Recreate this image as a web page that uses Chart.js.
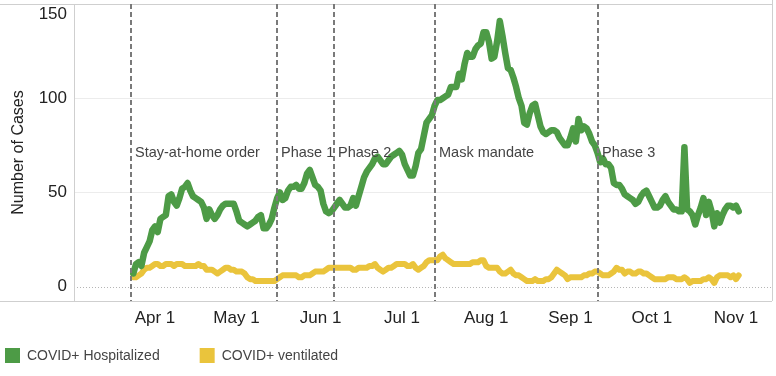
<!DOCTYPE html>
<html>
<head>
<meta charset="utf-8">
<script src="https://cdn.jsdelivr.net/npm/chart.js@4.4.0/dist/chart.umd.min.js"></script>
<style>
html, body { margin: 0; padding: 0; background: #fff; }
</style>
</head>
<body>
<canvas id="linechart" width="776" height="376"></canvas>
<script>
// x values are day numbers counted from Mar 1 2020 (= day 0)
var firstDay = 23; // Mar 24

var hospitalized = [
    7, 12, 13, 11, 18, 21, 24, 30, 32, 29,
    36, 37, 38, 48, 49, 45, 43, 47, 52, 53,
    55, 51, 48, 47, 46, 45, 42, 36, 41, 38,
    36, 38, 41, 43, 44, 44, 44, 44, 40, 35,
    34, 33, 32, 33, 34, 35, 37, 38, 31, 31,
    33, 36, 42, 47, 50, 46, 47, 51, 53, 53,
    54, 52, 52, 55, 60, 62, 58, 54, 53, 51,
    44, 40, 39, 40, 42, 44, 46, 44, 42, 42,
    43, 47, 43, 48, 53, 58, 61, 63, 65, 68,
    69, 67, 65, 65, 67, 69, 70, 71, 72, 70,
    65, 62, 59, 59, 64, 71, 73, 80, 87, 89,
    91, 96, 99, 99, 100, 101, 102, 106, 106, 106,
    113, 110, 118, 124, 122, 122, 126, 128, 129, 135,
    135, 130, 121, 122, 130, 141, 133, 124, 116, 115,
    111, 106, 100, 96, 87, 86, 92, 96, 97, 91,
    85, 82, 81, 82, 83, 83, 82, 79, 77, 75,
    75, 79, 84, 77, 89, 83, 85, 84, 81, 77,
    75, 71, 66, 68, 65, 65, 63, 55, 54, 54,
    52, 49, 48, 47, 46, 44, 45, 48, 50, 51,
    48, 45, 42, 42, 43, 46, 48, 45, 43, 41,
    41, 40, 40, 74, 41, 40, 38, 33, 38, 42,
    47, 38, 45, 40, 32, 39, 34, 38, 41, 43,
    43, 42, 43, 40
];

var ventilated = [
    5, 5, 6, 7, 9, 10, 10, 11, 12, 12,
    11, 11, 12, 12, 12, 11, 12, 12, 12, 11,
    11, 11, 11, 11, 12, 11, 11, 9, 9, 9,
    8, 7, 8, 9, 10, 10, 9, 9, 8, 8,
    8, 7, 5, 4, 4, 3, 3, 3, 3, 3,
    3, 3, 3, 4, 5, 6, 6, 6, 6, 6,
    6, 5, 5, 6, 6, 6, 7, 8, 8, 8,
    8, 9, 10, 10, 10, 10, 10, 10, 10, 10,
    10, 9, 9, 10, 10, 10, 10, 11, 11, 12,
    10, 9, 8, 9, 10, 10, 11, 12, 12, 12,
    12, 11, 11, 12, 10, 9, 10, 11, 13, 14,
    14, 14, 14, 16, 17, 15, 14, 13, 12, 12,
    12, 12, 12, 12, 12, 13, 13, 13, 14, 14,
    11, 10, 10, 10, 10, 8, 7, 7, 8, 9,
    7, 6, 6, 5, 4, 3, 3, 3, 4, 3,
    3, 3, 4, 4, 5, 7, 9, 8, 7, 6,
    4, 5, 5, 5, 5, 5, 6, 6, 7, 7,
    8, 8, 7, 6, 6, 6, 7, 8, 10, 9,
    9, 7, 8, 8, 7, 7, 8, 8, 7, 7,
    6, 5, 4, 4, 4, 4, 4, 5, 5, 5,
    4, 4, 4, 5, 4, 2, 3, 3, 3, 3,
    4, 4, 5, 4, 2, 5, 6, 6, 6, 6,
    5, 6, 4, 6
];

var monthTicks = [31, 61, 92, 122, 153, 184, 214, 245];
var monthLabels = ["Apr 1", "May 1", "Jun 1", "Jul 1", "Aug 1", "Sep 1", "Oct 1", "Nov 1"];
var yTicks = [0, 50, 100, 150];

var eventDays = [22, 76, 97, 134, 194];
var eventLabels = ["Stay-at-home order", "Phase 1", "Phase 2", "Mask mandate", "Phase 3"];

var GREEN = '#4d9b46';
var YELLOW = '#eac43c';
var FONT = 'Arial, "Liberation Sans", sans-serif';

function toPoints(values) {
    return values.map(function (v, i) { return { x: firstDay + i, y: v }; });
}

// gridlines, frame, event markers and legend
var overlay = {
    id: 'overlay',
    beforeDatasetsDraw: function (chart) {
        var ctx = chart.ctx, a = chart.chartArea, y = chart.scales.y;
        ctx.save();
        ctx.lineWidth = 1;
        yTicks.forEach(function (t) {
            if (t === 150) return;
            var py = Math.round(y.getPixelForValue(t)) + 0.5;
            ctx.strokeStyle = t === 0 ? '#b5b5b5' : '#ececec';
            ctx.setLineDash(t === 0 ? [1, 2] : []);
            ctx.beginPath();
            ctx.moveTo(a.left, py);
            ctx.lineTo(a.right, py);
            ctx.stroke();
        });
        ctx.setLineDash([]);
        ctx.strokeStyle = '#cfcfcf';
        ctx.beginPath();
        ctx.moveTo(0, a.top + 0.5); ctx.lineTo(a.right, a.top + 0.5);
        ctx.moveTo(0, a.bottom + 0.5); ctx.lineTo(a.right, a.bottom + 0.5);
        ctx.moveTo(a.left + 0.5, a.top); ctx.lineTo(a.left + 0.5, a.bottom);
        ctx.moveTo(a.right + 0.5, 0); ctx.lineTo(a.right + 0.5, a.bottom);
        ctx.stroke();
        ctx.restore();
    },
    afterDatasetsDraw: function (chart) {
        var ctx = chart.ctx, a = chart.chartArea, x = chart.scales.x;
        ctx.save();
        ctx.font = '14.5px ' + FONT;
        ctx.textAlign = 'left';
        ctx.textBaseline = 'middle';
        eventDays.forEach(function (d, i) {
            var px = Math.round(x.getPixelForValue(d));
            ctx.strokeStyle = '#7a7a7a';
            ctx.lineWidth = 2;
            ctx.setLineDash([5, 3]);
            ctx.beginPath();
            ctx.moveTo(px, a.top);
            ctx.lineTo(px, a.bottom);
            ctx.stroke();
            ctx.fillStyle = '#444';
            ctx.fillText(eventLabels[i], px + 4, a.top + 149);
        });
        ctx.restore();
    },
    afterDraw: function (chart) {
        var ctx = chart.ctx;
        var lx = 5;
        ctx.save();
        ctx.font = '14px ' + FONT;
        ctx.textAlign = 'left';
        ctx.textBaseline = 'middle';
        chart.data.datasets.forEach(function (ds) {
            ctx.fillStyle = ds.borderColor;
            ctx.fillRect(lx, 348, 15, 15);
            ctx.fillStyle = '#444';
            ctx.fillText(ds.label, lx + 22, 356);
            lx += 22 + ctx.measureText(ds.label).width + 40;
        });
        ctx.restore();
    }
};

var ctx = document.getElementById('linechart').getContext('2d');
var chart = new Chart(ctx, {
    type: 'line',
    data: {
        datasets: [{
            label: 'COVID+ Hospitalized',
            data: toPoints(hospitalized),
            borderColor: GREEN,
            backgroundColor: GREEN,
            borderWidth: 6.5,
            pointRadius: 0,
            borderJoinStyle: 'round',
            borderCapStyle: 'round'
        }, {
            label: 'COVID+ ventilated',
            data: toPoints(ventilated),
            borderColor: YELLOW,
            backgroundColor: YELLOW,
            borderWidth: 6,
            pointRadius: 0,
            borderJoinStyle: 'round',
            borderCapStyle: 'round'
        }]
    },
    options: {
        responsive: false,
        animation: false,
        layout: { padding: { top: 4, right: 4, left: 0, bottom: 0 } },
        plugins: {
            legend: { display: false },
            tooltip: { enabled: false }
        },
        scales: {
            x: {
                type: 'linear',
                min: 1.17,
                max: 258.26,
                afterBuildTicks: function (scale) {
                    scale.ticks = monthTicks.map(function (v) { return { value: v }; });
                },
                afterFit: function (scale) {
                    scale.height = 75;
                    scale.paddingLeft = 0;
                    scale.paddingRight = 0;
                },
                ticks: {
                    autoSkip: false,
                    maxRotation: 0,
                    padding: 7,
                    color: '#222',
                    font: { family: FONT, size: 17 },
                    callback: function (v) { return monthLabels[monthTicks.indexOf(v)]; }
                },
                grid: { display: false, drawTicks: false },
                border: { display: false }
            },
            y: {
                min: -7.6,
                max: 150,
                afterBuildTicks: function (scale) {
                    scale.ticks = yTicks.map(function (v) { return { value: v }; });
                },
                afterFit: function (scale) {
                    scale.width = 74;
                    scale.paddingTop = 0;
                    scale.paddingBottom = 0;
                },
                ticks: {
                    padding: 7,
                    color: '#222',
                    font: { family: FONT, size: 17 },
                    // top label sits just below the frame line, so push it down one line
                    callback: function (v) { return v === 150 ? ['', '150'] : String(v); }
                },
                title: {
                    display: true,
                    text: 'Number of Cases',
                    color: '#222',
                    font: { family: FONT, size: 16 },
                    padding: { top: 9, bottom: 0 }
                },
                grid: { display: false, drawTicks: false },
                border: { display: false }
            }
        }
    },
    plugins: [overlay]
});
</script>
</body>
</html>
